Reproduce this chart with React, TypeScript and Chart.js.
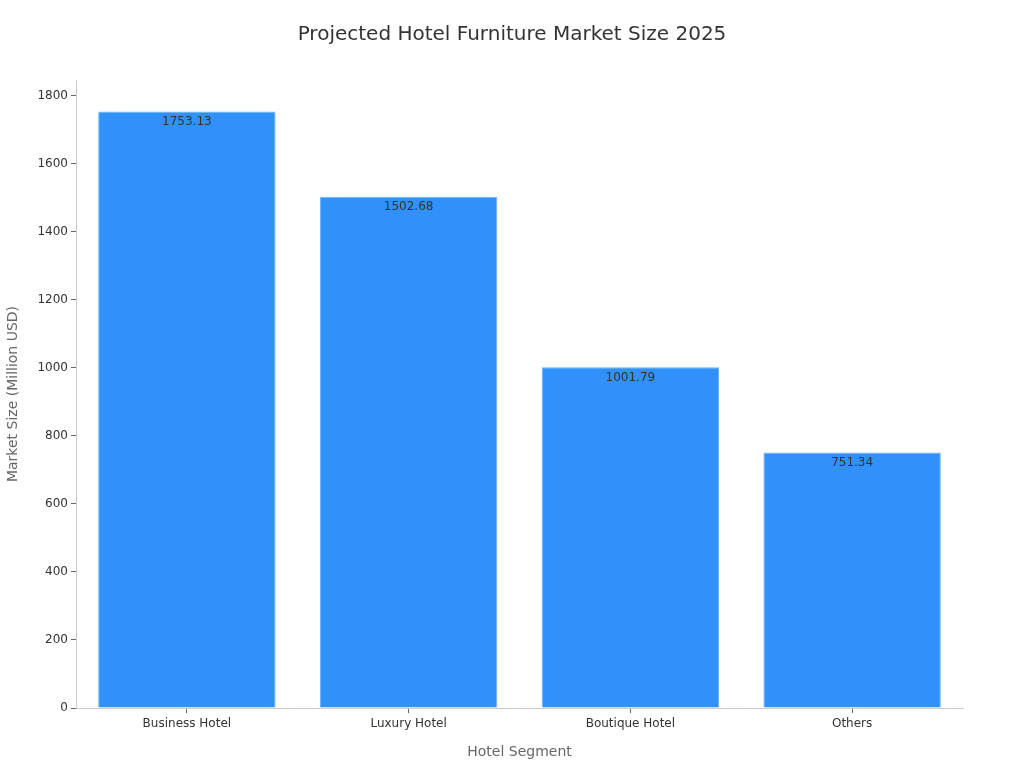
import React, { useEffect, useRef } from 'react';
import { Chart, registerables } from 'chart.js';

Chart.register(...registerables);

const segments = ['Business Hotel', 'Luxury Hotel', 'Boutique Hotel', 'Others'];
const marketSize = [1753.13, 1502.68, 1001.79, 751.34];

const FONT = '"DejaVu Sans", sans-serif';

// draws the value just inside the top of each bar
const barLabels = {
  id: 'barLabels',
  afterDatasetsDraw(chart: any) {
    const { ctx } = chart;
    const meta = chart.getDatasetMeta(0);
    ctx.save();
    ctx.font = `12px ${FONT}`;
    ctx.fillStyle = '#333333';
    ctx.textAlign = 'center';
    ctx.textBaseline = 'top';
    meta.data.forEach((bar: any, i: number) => {
      ctx.fillText(marketSize[i].toFixed(2), bar.x, bar.y + 4.5);
    });
    ctx.restore();
  },
};

// page title centred on the canvas
const pageTitle = {
  id: 'pageTitle',
  afterDraw(chart: any) {
    const { ctx } = chart;
    ctx.save();
    ctx.font = `20px ${FONT}`;
    ctx.fillStyle = '#333333';
    ctx.textAlign = 'center';
    ctx.textBaseline = 'middle';
    ctx.fillText('Projected Hotel Furniture Market Size 2025', chart.width / 2, 34.5);
    ctx.restore();
  },
};

const MarketSizeChart: React.FC = () => {
  const chartRef = useRef<HTMLCanvasElement>(null);
  const chartInstance = useRef<Chart | null>(null);

  useEffect(() => {
    if (!chartRef.current) return;
    if (chartInstance.current) chartInstance.current.destroy();

    chartInstance.current = new Chart(chartRef.current, {
      type: 'bar',
      data: {
        labels: segments,
        datasets: [{
          label: 'Market Size',
          data: marketSize,
          backgroundColor: '#2F91F9',
          borderColor: '#6BB0FA',
          borderWidth: 1,
          categoryPercentage: 0.8,
          barPercentage: 1,
        }],
      },
      plugins: [barLabels, pageTitle],
      options: {
        animation: false,
        responsive: true,
        maintainAspectRatio: false,
        layout: { padding: { top: 80, right: 61, bottom: 0, left: 0 } },
        scales: {
          x: {
            afterFit: (scale: any) => { scale.height = 60; },
            grid: { display: true, drawOnChartArea: false, offset: false, tickLength: 5, color: '#666666' },
            border: { color: '#cccccc' },
            ticks: { color: '#333333', font: { family: FONT, size: 12 }, padding: 4 },
            title: {
              display: true,
              text: 'Hotel Segment',
              color: '#666666',
              font: { family: FONT, size: 14 },
              padding: { top: 4, bottom: 7 },
            },
          },
          y: {
            min: 0,
            max: 1846,
            afterFit: (scale: any) => { scale.width = 76; },
            grid: { display: true, drawOnChartArea: false, tickLength: 5, color: '#666666' },
            border: { color: '#cccccc' },
            ticks: {
              stepSize: 200,
              includeBounds: false,
              color: '#333333',
              font: { family: FONT, size: 12 },
              padding: 3,
              callback: (value: any) => String(value),
            },
            title: {
              display: true,
              text: 'Market Size (Million USD)',
              color: '#666666',
              font: { family: FONT, size: 14 },
              padding: { top: 4.6, bottom: 4 },
            },
          },
        },
        plugins: {
          legend: { display: false },
          title: { display: false },
          tooltip: { enabled: false },
        },
      },
    });

    return () => {
      if (chartInstance.current) {
        chartInstance.current.destroy();
        chartInstance.current = null;
      }
    };
  }, []);

  return (
    <div style={{ position: 'absolute', left: 0, top: 0, width: 1024, height: 768, background: '#ffffff' }}>
      <canvas ref={chartRef} />
    </div>
  );
};

export default function App() {
  return <MarketSizeChart />;
}
